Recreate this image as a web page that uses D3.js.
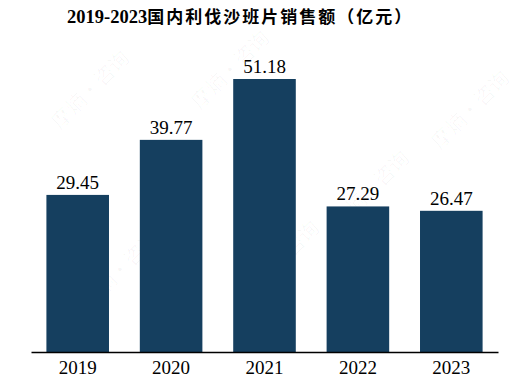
<!DOCTYPE html>
<html>
<head>
<meta charset="utf-8">
<script src="https://cdn.jsdelivr.net/npm/d3@7"></script>
<style>
  body { margin: 0; background: #fff; }
  svg { display: block; }
</style>
</head>
<body>
<div id="chart"></div>
<script>
// data
const years = ["2019", "2020", "2021", "2022", "2023"];
const sales = [29.45, 39.77, 51.18, 27.29, 26.47];
const titleYears = "2019-2023";
const titleText = "国内利伐沙班片销售额（亿元）";

const width = 532, height = 384;
const barColor = "#153f5f";
const serif = "'Liberation Serif', 'Times New Roman', 'Noto Sans CJK SC', serif";

let svg = d3.select("#chart").append("svg")
    .attr("width", width)
    .attr("height", height);

// faint watermark, kept inside the picture
let marks = [[60, 130], [200, 110], [340, 230], [440, 150], [90, 310], [250, 300]];
svg.append("g")
    .selectAll("text")
    .data(marks)
    .enter().append("text")
    .attr("transform", d => `translate(${d[0]}, ${d[1]}) rotate(-45)`)
    .attr("font-family", "'Noto Sans CJK SC', sans-serif")
    .attr("font-size", 20)
    .attr("fill", "#000")
    .attr("fill-opacity", 0.03)
    .text("摩熵·咨询");

let x = d3.scaleBand()
    .domain(years)
    .range([31, 498])
    .paddingInner(0.33)
    .paddingOuter(0.165);

let y = d3.scaleLinear()
    .domain([0, 60])
    .range([352, 352 - 60 * 5.334]);

svg.append("g")
    .selectAll("rect")
    .data(sales)
    .enter().append("rect")
    .attr("x", (d, i) => x(years[i]))
    .attr("y", d => y(d))
    .attr("width", x.bandwidth())
    .attr("height", d => y(0) - y(d))
    .attr("fill", barColor);

svg.append("g")
    .selectAll("text")
    .data(sales)
    .enter().append("text")
    .attr("x", (d, i) => x(years[i]) + x.bandwidth() / 2)
    .attr("y", d => y(d) - 6)
    .attr("text-anchor", "middle")
    .attr("font-family", serif)
    .attr("font-size", 19)
    .attr("fill", "#000")
    .text(d => d.toFixed(2));

let axis = svg.append("g")
    .attr("transform", `translate(0, ${y(0)})`)
    .call(d3.axisBottom(x).tickSize(0).tickPadding(9));
axis.select(".domain").attr("stroke", "#000").attr("stroke-width", 1.5);
axis.selectAll("text")
    .attr("font-family", serif)
    .attr("font-size", 19)
    .attr("fill", "#000");

let title = svg.append("text")
    .attr("x", 67)
    .attr("y", 23)
    .attr("font-family", serif)
    .attr("font-weight", "bold")
    .attr("fill", "#000");
title.append("tspan")
    .attr("font-size", 18.5)
    .text(titleYears);
title.append("tspan")
    .attr("font-family", "'Noto Sans CJK SC', serif")
    .attr("font-size", 17)
    .attr("letter-spacing", 2)
    .text(titleText);
</script>
</body>
</html>
